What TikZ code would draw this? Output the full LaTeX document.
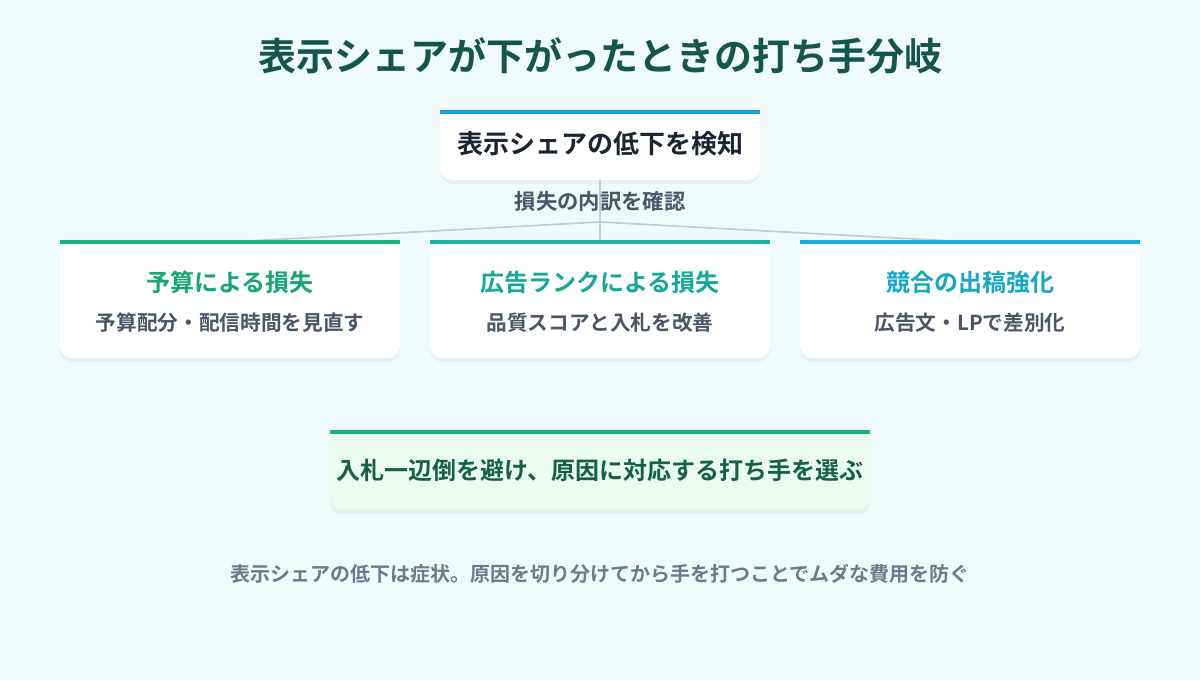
\documentclass[tikz,border=0pt]{standalone}
\usepackage{fontspec}
\setmainfont{Noto Sans CJK JP}[BoldFont={* Bold}]
\newfontfamily\jpb{Noto Sans CJK JP Bold}
\usetikzlibrary{shadows}
\definecolor{bg}{HTML}{EEFBFA}
\definecolor{titlec}{HTML}{15564A}
\definecolor{ink}{HTML}{1B2433}
\definecolor{gray1}{HTML}{4A5568}
\definecolor{gray2}{HTML}{6B7A8C}
\definecolor{lnc}{HTML}{C3CDD9}
\definecolor{cblue}{HTML}{1AA0DC}
\definecolor{cgreen}{HTML}{17B27A}
\definecolor{cteal}{HTML}{1DB5A0}
\definecolor{ccyan}{HTML}{16B0D4}
\definecolor{tgreen}{HTML}{17A673}
\definecolor{tteal}{HTML}{16A897}
\definecolor{tcyan}{HTML}{14A8C6}
\definecolor{fgreen}{HTML}{EAFBF2}
\definecolor{dgreen}{HTML}{176048}
\begin{document}
\begin{tikzpicture}[x=0.75pt,y=-0.75pt,
  card/.style={fill=white,rounded corners=9pt,drop shadow={opacity=0.08,shadow xshift=0pt,shadow yshift=-3pt}},
  bar/.style={line width=3pt},
  conn/.style={draw=lnc,line width=1.3pt}]
\useasboundingbox[fill=bg] (0,0) rectangle (1200,680);
\node[font=\jpb\fontsize{28.5}{32}\selectfont,text=titlec] (title) at (600,56) {表示シェアが下がったときの打ち手分岐};
% top box
\path[card] (440,112) rectangle (760,180);
\draw[bar,cblue] (440,112) -- (760,112);
\node[font=\jpb\fontsize{19.5}{22}\selectfont,text=ink] (top) at (600,144) {表示シェアの低下を検知};
\coordinate (topb) at (600,180);
\coordinate (hub) at (600,222);
% cards
\foreach \x/\c/\tc/\n/\t/\s in {230/cgreen/tgreen/c1/予算による損失/予算配分・配信時間を見直す,
  600/cteal/tteal/c2/広告ランクによる損失/品質スコアと入札を改善,
  970/ccyan/tcyan/c3/競合の出稿強化/広告文・LPで差別化}{
  \path[card] (\x-170,242) rectangle (\x+170,358);
  \coordinate (\n) at (\x,242);
  \node[font=\jpb\fontsize{18}{21}\selectfont,text=\tc] (\n t) at (\x,282) {\t};
  \node[font=\jpb\fontsize{15.5}{18}\selectfont,text=gray1] (\n s) at (\x,323) {\s};
}
\draw[conn] (topb) -- (hub) -- (c1);
\draw[conn] (hub) -- (c3);
\draw[conn] (hub) -- (c2);
\node[font=\jpb\fontsize{16}{19}\selectfont,text=gray1] (lab) at (600,201) {損失の内訳を確認};
\foreach \x/\c in {230/cgreen,600/cteal,970/ccyan}{\draw[bar,\c] (\x-170,242) -- (\x+170,242);}
% bottom
\path[card,fill=fgreen] (330,432) rectangle (870,510);
\draw[bar,cgreen] (330,432) -- (870,432);
\node[font=\jpb\fontsize{18}{21}\selectfont,text=dgreen] (bot) at (600,470) {入札一辺倒を避け、原因に対応する打ち手を選ぶ};
\node[font=\jpb\fontsize{15}{18}\selectfont,text=gray2] (foot) at (600,574) {表示シェアの低下は症状。原因を切り分けてから手を打つことでムダな費用を防ぐ};
\end{tikzpicture}
\end{document}
